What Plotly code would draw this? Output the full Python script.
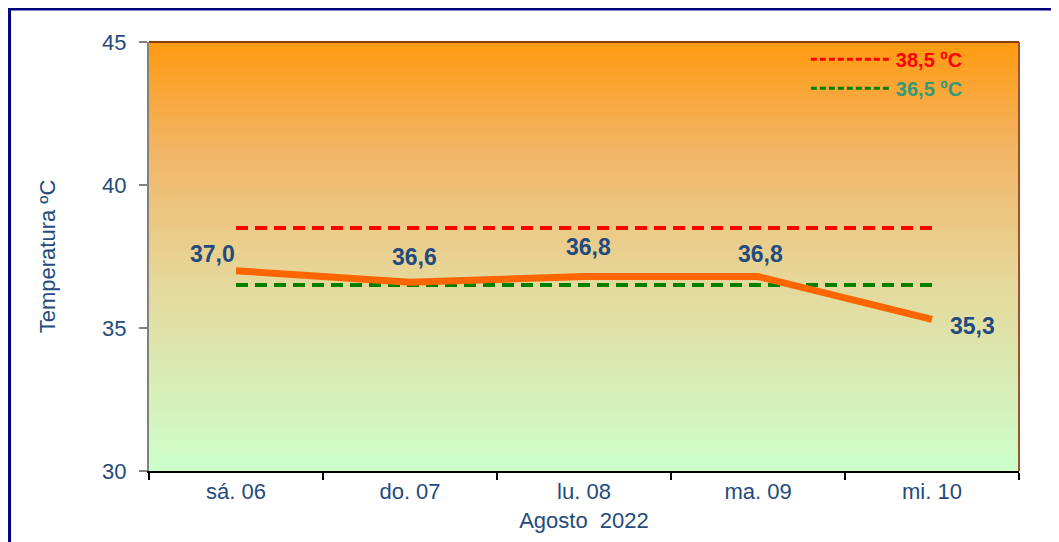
import numpy as np
import plotly.graph_objects as go

# data
days = ["sá. 06", "do. 07", "lu. 08", "ma. 09", "mi. 10"]
temps = [37.0, 36.6, 36.8, 36.8, 35.3]
temp_labels = ["37,0", "36,6", "36,8", "36,8", "35,3"]
upper_limit = 38.5
lower_limit = 36.5
y_ticks = [30, 35, 40, 45]

# label offsets in pixels (x, y) from each point
label_shift = [(-24, 17), (4, 25), (4, 30), (2, 23), (40, -7)]

x_idx = list(range(len(days)))
blue_txt = "#244A7E"
font_fam = "Liberation Sans, Arial, sans-serif"

fig = go.Figure()

# gradient background (orange top -> light green bottom)
bg_y = np.linspace(30, 45, 60)
fig.add_trace(go.Heatmap(
    x=[-0.5, 4.5],
    y=bg_y,
    z=[[v, v] for v in bg_y],
    zsmooth="best",
    colorscale=[[0, "#CCFFCC"], [0.45, "#E6D79A"], [0.75, "#F2B566"], [1, "#FF9A10"]],
    showscale=False,
    hoverinfo="skip",
    showlegend=False,
))

fig.add_trace(go.Scatter(
    x=[x_idx[0], x_idx[-1]], y=[upper_limit] * 2,
    mode="lines",
    line=dict(color="#FF0000", width=4, dash="12px,7px"),
    showlegend=False,
))
fig.add_trace(go.Scatter(
    x=[x_idx[0], x_idx[-1]], y=[lower_limit] * 2,
    mode="lines",
    line=dict(color="#008000", width=4, dash="12px,7px"),
    showlegend=False,
))

# legend-only entries (finer dash as in the original)
fig.add_trace(go.Scatter(
    x=[None], y=[None], mode="lines",
    line=dict(color="#FF0000", width=3, dash="6px,3px"),
    name="<b><span style='color:#FF0000'>38,5 ºC</span></b>",
))
fig.add_trace(go.Scatter(
    x=[None], y=[None], mode="lines",
    line=dict(color="#008000", width=3, dash="6px,3px"),
    name="<b><span style='color:#339977'>36,5 ºC</span></b>",
))

fig.add_trace(go.Scatter(
    x=x_idx, y=temps,
    mode="lines",
    line=dict(color="#FF6600", width=7),
    showlegend=False,
))

for xi, t, lbl, (dx, dy) in zip(x_idx, temps, temp_labels, label_shift):
    fig.add_annotation(
        x=xi, y=t, text="<b>%s</b>" % lbl, showarrow=False,
        xshift=dx, yshift=dy,
        font=dict(size=23, color=blue_txt, family=font_fam),
    )

fig.update_xaxes(
    range=[-0.5, 4.5],
    tickvals=x_idx,
    ticktext=days,
    ticks="",
    minor=dict(tickvals=[-0.5, 0.5, 1.5, 2.5, 3.5, 4.5], ticks="outside", ticklen=7,
               tickcolor="black", tickwidth=2),
    showline=True, linecolor="black", linewidth=2,
    showgrid=False, zeroline=False,
    tickfont=dict(size=22, color=blue_txt, family=font_fam),
    title=dict(text="Agosto  2022", font=dict(size=22, color=blue_txt, family=font_fam), standoff=9),
)
fig.update_yaxes(
    range=[30, 45],
    tickvals=y_ticks,
    ticks="outside", ticklen=8, tickcolor="#808080", tickwidth=2,
    ticklabelstandoff=8,
    showline=True, linecolor="#808080", linewidth=2,
    showgrid=False, zeroline=False,
    tickfont=dict(size=22, color=blue_txt, family=font_fam),
    title=dict(text="Temperatura ºC", font=dict(size=22, color=blue_txt, family=font_fam), standoff=40),
)

# top / right border of plot area and outer frame
fig.add_shape(type="line", xref="paper", yref="paper", x0=0, x1=1, y0=1, y1=1,
              line=dict(color="#8B3A10", width=2))
fig.add_shape(type="line", xref="paper", yref="paper", x0=1, x1=1, y0=0, y1=1,
              line=dict(color="#A0522D", width=2))
fig.add_shape(type="rect", xref="paper", yref="paper", x0=-0.1603, x1=1.2, y0=1.077, y1=-0.3,
              line=dict(color="#000080", width=3))

fig.update_layout(
    width=1059, height=542,
    margin=dict(l=141, r=48, t=34, b=79),
    paper_bgcolor="white",
    plot_bgcolor="white",
    font=dict(family=font_fam),
    legend=dict(x=0.755, y=1.005, xanchor="left", yanchor="top",
                bgcolor="rgba(0,0,0,0)", itemwidth=80,
                font=dict(size=20, family=font_fam), tracegroupgap=0),
)

fig.write_html("out.html")
